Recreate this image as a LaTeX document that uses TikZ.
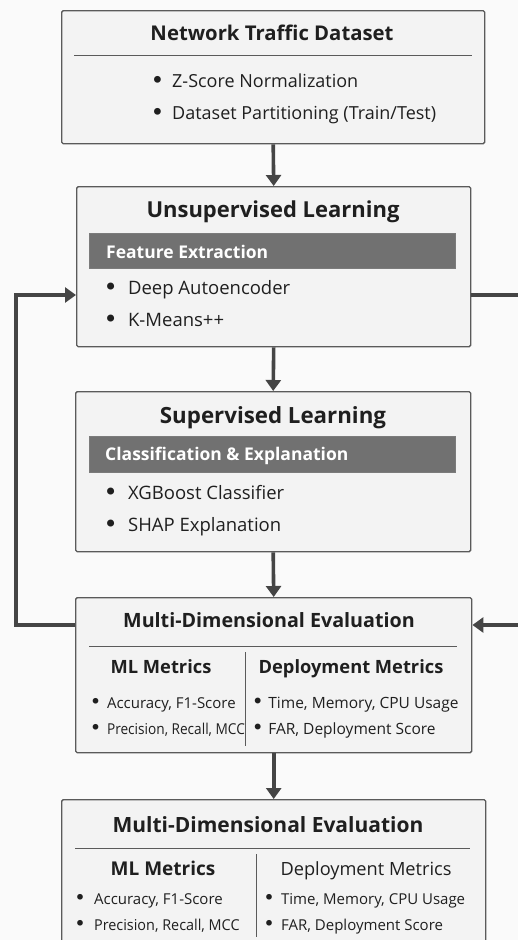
\documentclass[tikz,border=0pt]{standalone}
\usepackage{fontspec}
\setmainfont{Open Sans}
\newfontfamily\dejavu{DejaVu Sans}
\usetikzlibrary{arrows.meta}
\definecolor{bg}{HTML}{FAFAFA}
\definecolor{boxfill}{HTML}{F3F3F3}
\definecolor{boxline}{HTML}{5A5A5A}
\definecolor{barfill}{HTML}{717171}
\definecolor{txt}{HTML}{1F1F1F}
\definecolor{arrowc}{HTML}{454545}
\newcommand{\fs}[1]{\fontsize{#1}{#1}\selectfont}
\newcommand{\bl}[1]{\makebox[0.59em][c]{\raisebox{-0.06em}{\scalebox{1.3}{\dejavu •}}}\hspace{#1}}
\tikzset{
  x=1pt,y=-1pt,
  box/.style={draw=boxline,fill=boxfill,line width=1.4pt,anchor=north west,inner sep=0pt,rounded corners=1.5pt},
  bar/.style={draw=boxline!80,fill=barfill,line width=0.8pt,anchor=north west,inner sep=0pt},
  sep/.style={draw=boxline,line width=1pt},
  conn/.style={draw=arrowc,line width=3.6pt},
  arr/.style={conn,-{Triangle[length=11pt,width=15pt]}},
  ttl/.style={text=txt,inner sep=0pt,anchor=base,font=\bfseries\fs{20.3}},
  bul/.style={text=txt,inner sep=0pt,anchor=base west,font=\fs{18}},
  sbul/.style={text=txt,inner sep=0pt,anchor=base west,font=\fs{15}},
  hdr/.style={text=txt,inner sep=0pt,anchor=base,font=\bfseries\fs{18.3}},
  bartxt/.style={text=white,inner sep=0pt,anchor=base west,font=\bfseries\fs{17.5}},
}
\begin{document}
\begin{tikzpicture}
\clip (0,0) rectangle (518,940);
\fill[bg] (0,0) rectangle (518,940);
\useasboundingbox (0,0) rectangle (518,940);

% boxes
\node[box,minimum width=423pt,minimum height=133pt] (b1) at (61,10) {};
\node[box,minimum width=394pt,minimum height=160pt] (b2) at (76,186) {};
\node[box,minimum width=395pt,minimum height=160pt] (b3) at (75,391) {};
\node[box,minimum width=396pt,minimum height=155pt] (b4) at (75,597) {};
\node[box,minimum width=424pt,minimum height=160pt] (b5) at (61,799) {};

% box 1
\node[ttl] (t1) at (272,40) {Network Traffic Dataset};
\draw[sep] (74,55) -- (472,55);
\node[bul] (b1a) at (152,87) {\bl{9.4pt}Z-Score Normalization};
\node[bul] (b1b) at (152,119) {\bl{9.4pt}Dataset Partitioning (Train/Test)};

% box 2
\node[ttl,font=\bfseries\fs{22}] (t2) at (273,217) {Unsupervised Learning};
\node[bar,minimum width=366pt,minimum height=35pt] (bar2) at (89,233) {};
\node[bartxt] (bt2) at (106,258) {Feature Extraction};
\node[bul,font=\fs{18.5}] (b2a) at (105,294) {\bl{12pt}Deep Autoencoder};
\node[bul,font=\fs{18.5}] (b2b) at (105,326) {\bl{12pt}K-Means++};

% box 3
\node[ttl,font=\bfseries\fs{22.3}] (t3) at (273,423) {Supervised Learning};
\node[bar,minimum width=366pt,minimum height=36pt] (bar3) at (89,436) {};
\node[bartxt] (bt3) at (105,460) {Classification \& Explanation};
\node[bul,font=\fs{18.5}] (b3a) at (105,499) {\bl{12pt}XGBoost Classifier};
\node[bul,font=\fs{18.5}] (b3b) at (105,531) {\bl{12pt}SHAP Explanation};

% box 4
\node[ttl,font=\bfseries\fs{19.7}] (t4) at (269,627) {Multi-Dimensional Evaluation};
\draw[sep] (89,646) -- (457,646);
\draw[sep] (245,652) -- (245,746);
\node[hdr] (h4a) at (161,673) {ML Metrics};
\node[hdr] (h4b) at (351,673) {Deployment Metrics};
\node[sbul] (m4a) at (91,708) {\bl{7pt}Accuracy, F1-Score};
\node[sbul] (m4b) at (91,734) {\bl{7pt}\scalebox{0.91}[1]{Precision, Recall, MCC}};
\node[sbul,font=\fs{15.5}] (m4c) at (253,708) {\bl{6pt}Time, Memory, CPU Usage};
\node[sbul,font=\fs{15.5}] (m4d) at (253,734) {\bl{6pt}FAR, Deployment Score};

% box 5
\node[ttl,font=\bfseries\fs{21}] (t5) at (268,832) {Multi-Dimensional Evaluation};
\draw[sep] (75,848) -- (470,848);
\draw[sep] (256,854) -- (256,937);
\node[hdr,font=\bfseries\fs{19}] (h5a) at (163,875) {ML Metrics};
\node[hdr,font=\fs{18.2}] (h5b) at (366,875) {Deployment Metrics};
\node[sbul,font=\fs{15}] (m5a) at (75.5,904) {\bl{9.6pt}Accuracy, F1-Score};
\node[sbul,font=\fs{15}] (m5b) at (75.5,930) {\bl{9.6pt}\scalebox{0.96}[1]{Precision, Recall, MCC}};
\node[sbul,font=\fs{15}] (m5c) at (264.5,904) {\bl{7.6pt}Time, Memory, CPU Usage};
\node[sbul,font=\fs{15}] (m5d) at (264.5,930) {\bl{7.6pt}FAR, Deployment Score};

% connectors
\draw[arr] (b1.south) -- (b2.north);
\draw[arr] (b2.south) -- (b3.north);
\draw[arr] (b3.south) -- (b4.north);
\draw[arr] (b4.south) -- (b5.north);

\coordinate (lb) at (16,625);
\coordinate (lt) at (16,295);
\coordinate (rt) at (518,295);
\coordinate (rb) at (518,625);
\draw[arr] (b4.west |- lb) -- (lb) -- (lt) -- (b2.west |- lt);
\draw[conn] (b2.east |- rt) -- (rt);
\draw[arr] (rb) -- (b4.east |- rb);
\end{tikzpicture}
\end{document}
